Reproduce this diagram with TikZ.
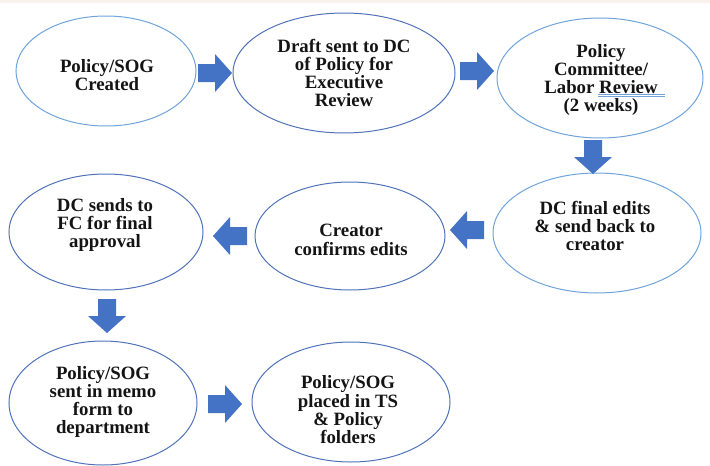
\documentclass[tikz,border=0pt]{standalone}
\usepackage{fontspec}
\setmainfont{Liberation Serif}
\newfontfamily\tnrbold{Liberation Serif Bold}
\usetikzlibrary{shapes.geometric}
\definecolor{elA}{HTML}{6FA3DA}
\definecolor{elB}{HTML}{4F72B8}
\definecolor{arr}{HTML}{4472C4}
\definecolor{band}{HTML}{F7F2EC}
\definecolor{txt}{HTML}{141414}
\begin{document}
\begin{tikzpicture}[x=1pt,y=-1pt,
  stepell/.style={ellipse,draw=elB,line width=1pt,inner sep=0pt},
  lbl/.style={font=\tnrbold\fontsize{18.8}{18.3}\selectfont,align=center,inner sep=0pt,text=txt},
  barrow/.pic={\fill[arr] (0,-9)--(17,-9)--(17,-19)--(34,0)--(17,19)--(17,9)--(0,9)--cycle;}]
\useasboundingbox (0,0) rectangle (710,466);
\fill[band] (0,0) rectangle (710,3);
% ellipses
\node[stepell,draw=elA,minimum width=180pt,minimum height=110pt] (e1) at (106,71) {};
\node[stepell,minimum width=222pt,minimum height=120pt] (e2) at (344,73) {};
\node[stepell,draw=elA,minimum width=206pt,minimum height=120pt] (e3) at (600,78) {};
\node[stepell,draw=elA,minimum width=208pt,minimum height=120pt] (e4) at (597,233) {};
\node[stepell,minimum width=190pt,minimum height=108pt] (e5) at (350,236) {};
\node[stepell,minimum width=194pt,minimum height=116pt] (e6) at (106,232) {};
\node[stepell,minimum width=188pt,minimum height=124pt] (e7) at (103,403) {};
\node[stepell,minimum width=198pt,minimum height=120pt] (e8) at (351,402) {};
% labels
\node[lbl] (t1) at (107,75) {Policy/SOG\\Created};
\node[lbl] (t2) at (344,73) {Draft sent to DC\\of Policy for\\Executive\\Review};
\node[lbl] (t3) at (601,80) {Policy\\Committee/\\Labor Review\\(2 weeks)};
\node[lbl] (t4) at (595,226) {DC final edits\\\&{} send back to\\creator};
\node[lbl] (t5) at (351,240) {Creator\\confirms edits};
\node[lbl] (t6) at (105,225) {DC sends to\\FC for final\\approval};
\node[lbl] (t7) at (103,402) {Policy/SOG\\sent in memo\\form to\\department};
\node[lbl] (t8) at (348,410) {Policy/SOG\\placed in TS\\\&{} Policy\\folders};
% spell-check underline
\draw[elA,line width=0.7pt] (598,94.5) -- (665,94.5);
\draw[elA,line width=0.7pt] (598,96.8) -- (665,96.8);
% block arrows
\pic (a1) at (198,73) {barrow};
\pic (a2) at (460,71) {barrow};
\pic[rotate=-90] (a3) at (593,140) {barrow};
\pic[rotate=180] (a4) at (484,230) {barrow};
\pic[rotate=180] (a5) at (247,236) {barrow};
\pic[rotate=-90] (a6) at (107,299) {barrow};
\pic (a7) at (208,404) {barrow};
\end{tikzpicture}
\end{document}
